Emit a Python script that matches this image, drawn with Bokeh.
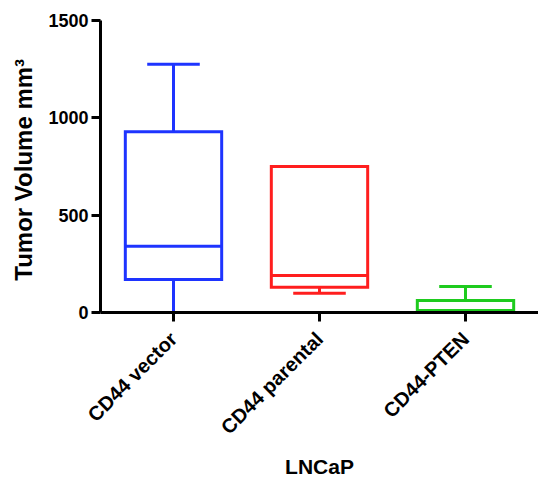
from bokeh.plotting import figure
from bokeh.models import ColumnDataSource, Range1d, FactorRange
from bokeh.transform import dodge
from bokeh.embed import file_html
from bokeh.resources import INLINE
import math

groups = ["CD44 vector", "CD44 parental", "CD44-PTEN"]
lower = [0, 99, 0]
q1 = [170, 130, 5]
median = [340, 190, 10]
q3 = [928, 750, 62]
upper = [1275, 750, 134]
colors = ["#1e34ff", "#ff1e1e", "#1ecb1e"]
y_ticks = [0, 500, 1000, 1500]

src = ColumnDataSource(dict(g=groups, lo=lower, q1=q1, med=median, q3=q3, hi=upper, c=colors))

p = figure(width=538, height=481, x_range=FactorRange(*groups), y_range=Range1d(0, 1500),
           output_backend="svg", toolbar_location=None,
           min_border_left=100, min_border_right=0, min_border_top=20, min_border_bottom=160)
p.outline_line_color = None
p.xgrid.visible = False
p.ygrid.visible = False
p.x_range.range_padding = 0

BW = 0.66
CW = 0.36
lw = 3

p.segment(x0="g", x1="g", y0="q3", y1="hi", source=src, line_color="c", line_width=lw)
p.segment(x0="g", x1="g", y0="lo", y1="q1", source=src, line_color="c", line_width=lw)
p.segment(x0=dodge("g", -CW / 2, range=p.x_range), x1=dodge("g", CW / 2, range=p.x_range),
          y0="hi", y1="hi", source=src, line_color="c", line_width=lw)
p.segment(x0=dodge("g", -CW / 2, range=p.x_range), x1=dodge("g", CW / 2, range=p.x_range),
          y0="lo", y1="lo", source=src, line_color="c", line_width=lw)
p.vbar(x="g", width=BW, top="q3", bottom="q1", source=src, fill_color="white",
       line_color="c", line_width=lw, line_join="miter")
p.segment(x0=dodge("g", -BW / 2, range=p.x_range), x1=dodge("g", BW / 2, range=p.x_range),
          y0="med", y1="med", source=src, line_color="c", line_width=lw)

font = "Liberation Sans"
p.yaxis.ticker = y_ticks
p.yaxis.axis_label = "Tumor Volume  mm\u00b3"
p.xaxis.axis_label = "LNCaP"
for ax in (p.xaxis, p.yaxis):
    ax.axis_line_width = 3
    ax.axis_line_color = "black"
    ax.major_tick_line_width = 3
    ax.major_tick_line_color = "black"
    ax.major_tick_out = 9
    ax.major_tick_in = 0
    ax.minor_tick_line_color = None
    ax.major_label_text_font = font
    ax.major_label_text_font_style = "bold"
    ax.major_label_text_color = "black"
    ax.axis_label_text_font = font
    ax.axis_label_text_font_style = "bold"
    ax.axis_label_text_color = "black"

p.yaxis.major_label_text_font_size = "18px"
p.yaxis.major_label_standoff = 3
p.yaxis.axis_label_text_font_size = "24px"
p.yaxis.axis_label_standoff = 8

p.xaxis.major_label_text_font_size = "20px"
p.xaxis.major_label_orientation = math.pi / 4
p.xaxis.major_label_standoff = 14
p.xaxis.axis_label_text_font_size = "21px"
p.xaxis.axis_label_standoff = 6

open("out.html", "w").write(file_html(p, INLINE))
